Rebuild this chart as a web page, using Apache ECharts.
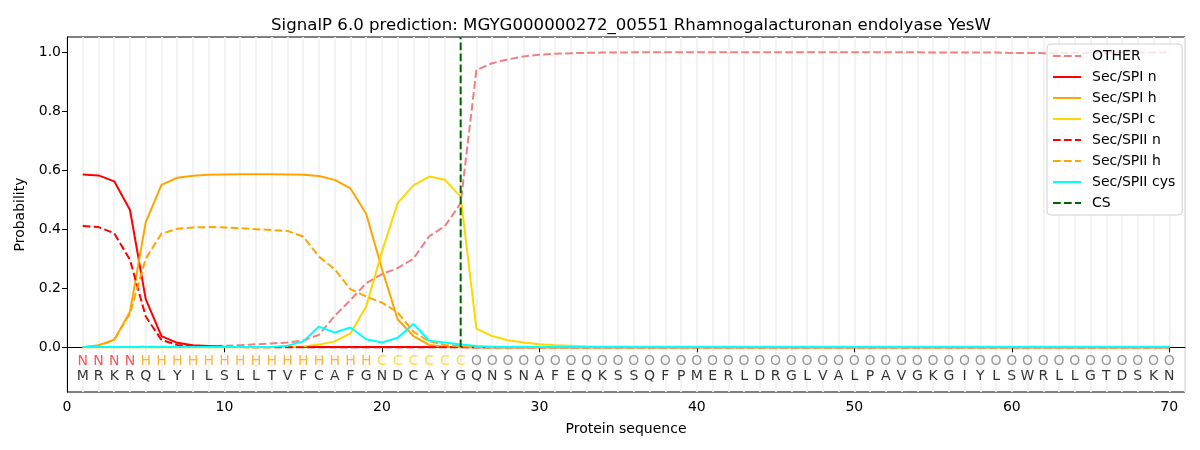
<!DOCTYPE html>
<html>
<head>
<meta charset="utf-8">
<script src="https://cdn.jsdelivr.net/npm/echarts@6/dist/echarts.min.js"></script>
<style>
  html, body { margin: 0; padding: 0; background: #fff; }
  #chart { width: 1200px; height: 450px; }
</style>
</head>
<body>
<div id="chart"></div>
<script>
var sequence = 'MRKRQLYILSLLTVFCAFGNDCAYGQNSNAFEQKSSQFPMERLDRGLVALPAVGKGIYLSWRLLGTDSKN'.split('');
var regions = 'NNNNHHHHHHHHHHHHHHHCCCCCCOOOOOOOOOOOOOOOOOOOOOOOOOOOOOOOOOOOOOOOOOOOOO'.split('');
var regionColors = { N: '#ff2a2a', H: '#ffa500', C: '#ffd21a', O: '#808080' };
var csPos = 25;

var other = [
  0.001, 0.001, 0.001, 0.001, 0.002, 0.002, 0.002, 0.003, 0.004, 0.005,
  0.007, 0.010, 0.013, 0.016, 0.023, 0.042, 0.106, 0.160, 0.217, 0.248,
  0.268, 0.300, 0.376, 0.410, 0.488, 0.939, 0.962, 0.975, 0.985, 0.991,
  0.994, 0.996, 0.997, 0.998, 0.998, 0.999, 0.999, 0.999, 0.999, 0.999,
  0.999, 0.999, 0.999, 0.999, 0.999, 0.999, 0.999, 0.999, 0.999, 0.999,
  0.999, 0.999, 0.999, 0.999, 0.998, 0.998, 0.998, 0.998, 0.998, 0.997,
  0.997, 0.996, 0.996, 0.997, 0.997, 0.997, 0.998, 0.998, 0.998, 0.999
];
var spiN = [
  0.585, 0.582, 0.562, 0.465, 0.163, 0.038, 0.015, 0.007, 0.004, 0.002,
  0.001, 0.001, 0.001, 0.001, 0.001, 0.001, 0.001, 0.001, 0.001, 0.001,
  0.001, 0.001, 0.001, 0.001, 0.001, 0.000, 0.000, 0.000, 0.000, 0.000,
  0.000, 0.000, 0.000, 0.000, 0.000, 0.000, 0.000, 0.000, 0.000, 0.000,
  0.000, 0.000, 0.000, 0.000, 0.000, 0.000, 0.000, 0.000, 0.000, 0.000,
  0.000, 0.000, 0.000, 0.000, 0.000, 0.000, 0.000, 0.000, 0.000, 0.000,
  0.000, 0.000, 0.000, 0.000, 0.000, 0.000, 0.000, 0.000, 0.000, 0.000
];
var spiH = [
  0.000, 0.007, 0.025, 0.120, 0.424, 0.550, 0.574, 0.581, 0.584, 0.585,
  0.586, 0.586, 0.586, 0.585, 0.584, 0.580, 0.567, 0.538, 0.452, 0.265,
  0.095, 0.038, 0.008, 0.002, 0.001, 0.000, 0.000, 0.000, 0.000, 0.000,
  0.000, 0.000, 0.000, 0.000, 0.000, 0.000, 0.000, 0.000, 0.000, 0.000,
  0.000, 0.000, 0.000, 0.000, 0.000, 0.000, 0.000, 0.000, 0.000, 0.000,
  0.000, 0.000, 0.000, 0.000, 0.000, 0.000, 0.000, 0.000, 0.000, 0.000,
  0.000, 0.000, 0.000, 0.000, 0.000, 0.000, 0.000, 0.000, 0.000, 0.000
];
var spiC = [
  0.000, 0.000, 0.000, 0.000, 0.000, 0.000, 0.000, 0.000, 0.000, 0.000,
  0.000, 0.000, 0.000, 0.001, 0.003, 0.009, 0.020, 0.047, 0.138, 0.324,
  0.488, 0.548, 0.578, 0.567, 0.510, 0.063, 0.038, 0.024, 0.016, 0.010,
  0.007, 0.005, 0.003, 0.002, 0.002, 0.001, 0.001, 0.001, 0.001, 0.001,
  0.001, 0.001, 0.001, 0.001, 0.001, 0.001, 0.001, 0.001, 0.001, 0.001,
  0.001, 0.001, 0.001, 0.001, 0.001, 0.001, 0.001, 0.001, 0.001, 0.001,
  0.001, 0.001, 0.001, 0.001, 0.001, 0.001, 0.001, 0.001, 0.001, 0.001
];
var spiiN = [
  0.411, 0.407, 0.386, 0.296, 0.104, 0.025, 0.008, 0.004, 0.002, 0.001,
  0.001, 0.000, 0.000, 0.000, 0.000, 0.000, 0.000, 0.000, 0.000, 0.000,
  0.000, 0.000, 0.000, 0.000, 0.000, 0.000, 0.000, 0.000, 0.000, 0.000,
  0.000, 0.000, 0.000, 0.000, 0.000, 0.000, 0.000, 0.000, 0.000, 0.000,
  0.000, 0.000, 0.000, 0.000, 0.000, 0.000, 0.000, 0.000, 0.000, 0.000,
  0.000, 0.000, 0.000, 0.000, 0.000, 0.000, 0.000, 0.000, 0.000, 0.000,
  0.000, 0.000, 0.000, 0.000, 0.000, 0.000, 0.000, 0.000, 0.000, 0.000
];
var spiiH = [
  0.000, 0.005, 0.025, 0.115, 0.300, 0.385, 0.401, 0.406, 0.407, 0.406,
  0.403, 0.400, 0.397, 0.394, 0.375, 0.307, 0.264, 0.197, 0.172, 0.151,
  0.118, 0.053, 0.020, 0.008, 0.003, 0.001, 0.000, 0.000, 0.000, 0.000,
  0.000, 0.000, 0.000, 0.000, 0.000, 0.000, 0.000, 0.000, 0.000, 0.000,
  0.000, 0.000, 0.000, 0.000, 0.000, 0.000, 0.000, 0.000, 0.000, 0.000,
  0.000, 0.000, 0.000, 0.000, 0.000, 0.000, 0.000, 0.000, 0.000, 0.000,
  0.000, 0.000, 0.000, 0.000, 0.000, 0.000, 0.000, 0.000, 0.000, 0.000
];
var spiiCys = [
  0.001, 0.001, 0.001, 0.001, 0.001, 0.001, 0.001, 0.001, 0.001, 0.001,
  0.001, 0.001, 0.001, 0.005, 0.020, 0.070, 0.050, 0.067, 0.027, 0.016,
  0.032, 0.079, 0.022, 0.016, 0.009, 0.004, 0.002, 0.001, 0.001, 0.001,
  0.001, 0.001, 0.001, 0.001, 0.001, 0.001, 0.001, 0.001, 0.001, 0.001,
  0.001, 0.001, 0.001, 0.001, 0.001, 0.001, 0.001, 0.001, 0.001, 0.001,
  0.001, 0.001, 0.001, 0.001, 0.001, 0.001, 0.001, 0.001, 0.001, 0.001,
  0.001, 0.001, 0.001, 0.001, 0.001, 0.001, 0.001, 0.001, 0.001, 0.001
];
var xTicks = [0, 10, 20, 30, 40, 50, 60, 70];
var yTicks = [0, 0.2, 0.4, 0.6, 0.8, 1.0];

var FONT = 'DejaVu Sans';
var DASH = [7.7, 3.3];

function pairs(values) {
  var out = [];
  for (var i = 0; i < values.length; i++) {
    out.push([i + 1, values[i]]);
  }
  return out;
}

function lineSeries(name, values, color, dashed) {
  return {
    name: name,
    type: 'line',
    data: pairs(values),
    symbol: 'none',
    lineStyle: { color: color, width: 2, type: dashed ? DASH : 'solid' },
    itemStyle: { color: color },
    z: 3
  };
}

// letters under the curves: region labels and residues
var regionData = [];
var seqData = [];
for (var i = 0; i < sequence.length; i++) {
  regionData.push({
    value: [i + 1, -0.047, regions[i]],
    label: { color: regionColors[regions[i]] }
  });
  seqData.push({ value: [i + 1, -0.098, sequence[i]] });
}

function letterSeries(data, color) {
  return {
    type: 'scatter',
    data: data,
    symbolSize: 0,
    silent: true,
    z: 4,
    label: {
      show: true,
      position: 'inside',
      color: color,
      fontFamily: FONT,
      fontSize: 14,
      formatter: function (p) { return p.value[2]; }
    }
  };
}

var option = {
  animation: false,
  backgroundColor: '#fff',
  title: {
    text: 'SignalP 6.0 prediction: MGYG000000272_00551 Rhamnogalacturonan endolyase YesW',
    left: 626,
    top: 12,
    textAlign: 'center',
    textStyle: { fontFamily: FONT, fontSize: 16.6, fontWeight: 'normal', color: '#000' }
  },
  legend: {
    orient: 'vertical',
    left: 1047,
    top: 44,
    padding: [5, 7, 5, 5],
    itemGap: 7,
    itemWidth: 28,
    itemHeight: 14,
    itemStyle: { opacity: 0 },
    backgroundColor: 'rgba(255,255,255,0.8)',
    borderColor: '#d0d0d0',
    borderWidth: 1,
    borderRadius: 4,
    textStyle: { fontFamily: FONT, fontSize: 14, color: '#000', padding: [0, 0, 0, 6] },
    data: ['OTHER', 'Sec/SPI n', 'Sec/SPI h', 'Sec/SPI c', 'Sec/SPII n', 'Sec/SPII h', 'Sec/SPII cys', 'CS']
  },
  grid: {
    left: 67,
    right: 15,
    top: 37,
    bottom: 58,
    show: true,
    borderColor: '#000',
    borderWidth: 1,
    backgroundColor: 'transparent'
  },
  xAxis: [
    {
      type: 'value',
      min: 0,
      max: 71,
      interval: 10,
      name: 'Protein sequence',
      nameLocation: 'middle',
      nameGap: 30,
      nameTextStyle: { fontFamily: FONT, fontSize: 14, color: '#000' },
      axisLine: { show: true, lineStyle: { color: '#000', width: 1 } },
      axisTick: { show: true, length: 5, customValues: xTicks, lineStyle: { color: '#000' } },
      axisLabel: { customValues: xTicks, fontFamily: FONT, fontSize: 14, color: '#000', margin: 8 },
      splitLine: { show: false }
    },
    {
      type: 'value',
      min: 0,
      max: 71,
      interval: 1,
      position: 'bottom',
      axisLine: { show: false },
      axisTick: { show: false },
      axisLabel: { show: false },
      splitLine: { show: true, lineStyle: { color: '#f2f2f2', width: 1.8 } }
    }
  ],
  yAxis: {
    type: 'value',
    min: -0.1515,
    max: 1.0508,
    name: 'Probability',
    nameLocation: 'middle',
    nameGap: 38,
    nameTextStyle: { fontFamily: FONT, fontSize: 14, color: '#000' },
    axisLine: { show: true, lineStyle: { color: '#000', width: 1 } },
    axisTick: { show: true, length: 5, customValues: yTicks, lineStyle: { color: '#000' } },
    axisLabel: {
      customValues: yTicks,
      fontFamily: FONT,
      fontSize: 14,
      color: '#000',
      margin: 6,
      formatter: function (v) { return v.toFixed(1); }
    },
    splitLine: { show: false }
  },
  series: [
    lineSeries('OTHER', other, '#f08080', true),
    lineSeries('Sec/SPI n', spiN, '#ff0000', false),
    lineSeries('Sec/SPI h', spiH, '#ffa500', false),
    lineSeries('Sec/SPI c', spiC, '#ffd700', false),
    lineSeries('Sec/SPII n', spiiN, '#ff0000', true),
    lineSeries('Sec/SPII h', spiiH, '#ffa500', true),
    lineSeries('Sec/SPII cys', spiiCys, '#00ffff', false),
    {
      name: 'CS',
      type: 'line',
      data: [[csPos, 0], [csPos, 1.0508]],
      symbol: 'none',
      lineStyle: { color: '#006400', width: 2, type: DASH },
      itemStyle: { color: '#006400' },
      z: 3
    },
    letterSeries(regionData, '#808080'),
    letterSeries(seqData, '#000')
  ]
};

var chart = echarts.init(document.getElementById('chart'));
chart.setOption(option);
</script>
</body>
</html>
